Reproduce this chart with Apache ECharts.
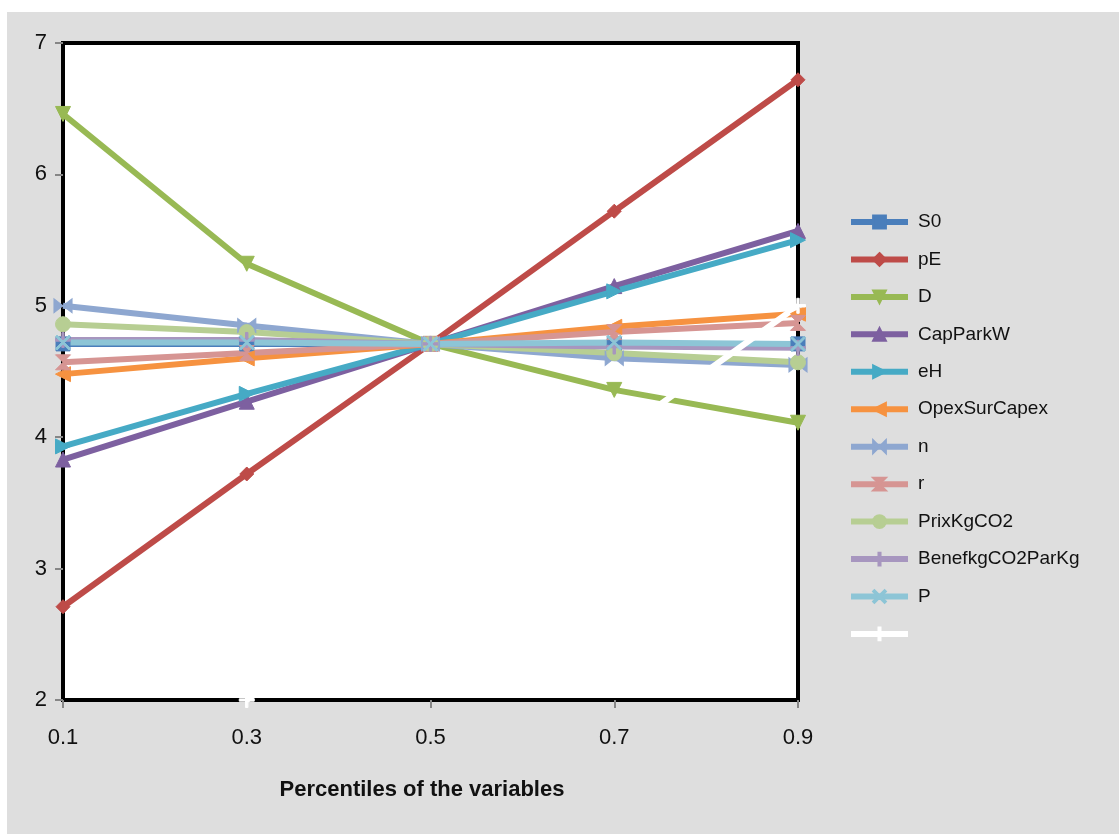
<!DOCTYPE html>
<html>
<head>
<meta charset="utf-8">
<script src="https://cdn.jsdelivr.net/npm/echarts@6/dist/echarts.min.js"></script>
<style>
  html, body { margin: 0; padding: 0; background: #ffffff; }
  #panel { position: absolute; left: 7px; top: 12px; width: 1112px; height: 822px; background: #dedede; }
  #chart { position: absolute; left: 0; top: 0; width: 1119px; height: 834px; }
</style>
</head>
<body>
<div id="panel"></div>
<div id="chart"></div>
<script>
// Percentile points on the horizontal axis
const percentiles = ['0.1', '0.3', '0.5', '0.7', '0.9'];
const yTicks = [2, 3, 4, 5, 6, 7];

// Output value at each percentile of one input variable
const S0           = [4.71, 4.71, 4.71, 4.71, 4.71];
const pE           = [2.71, 3.72, 4.71, 5.72, 6.72];
const D            = [6.46, 5.32, 4.71, 4.36, 4.11];
const CapParkW     = [3.83, 4.27, 4.71, 5.15, 5.57];
const eH           = [3.93, 4.33, 4.71, 5.11, 5.50];
const OpexSurCapex = [4.48, 4.60, 4.71, 4.84, 4.94];
const n            = [5.00, 4.85, 4.71, 4.60, 4.55];
const r            = [4.57, 4.64, 4.71, 4.80, 4.87];
const PrixKgCO2    = [4.86, 4.80, 4.71, 4.64, 4.57];
const BenefkgCO2ParKg = [4.74, 4.74, 4.71, 4.69, 4.68];
const P            = [4.72, 4.72, 4.71, 4.72, 4.71];
const unnamed      = [null, 2, 3, 4, 5];

const FONT = 'Liberation Sans';

// marker shapes
const TRI_DOWN  = 'path://M0,0L10,0L5,9Z';
const TRI_RIGHT = 'path://M0,0L9,5L0,10Z';
const TRI_LEFT  = 'path://M9,0L0,5L9,10Z';
const BOWTIE_H  = 'path://M0,0L10,5L0,10Z M20,0L10,5L20,10Z';
const BOWTIE_V  = 'path://M0,0L10,0L5,5Z M0,10L10,10L5,5Z';
const PLUS      = 'path://M4.2,0H5.8V10H4.2Z M0,4.2H10V5.8H0Z';
const CROSS     = 'path://M0,1L1,0L5,4L9,0L10,1L6,5L10,9L9,10L5,6L1,10L0,9L4,5Z';

const seriesDefs = [
  { name: 'S0', data: S0, color: '#4a7ebb', symbol: 'rect', size: 14 },
  { name: 'pE', data: pE, color: '#be4b48', symbol: 'diamond', size: 14 },
  { name: 'D', data: D, color: '#98b954', symbol: TRI_DOWN, size: 15 },
  { name: 'CapParkW', data: CapParkW, color: '#7d60a0', symbol: 'triangle', size: 15 },
  { name: 'eH', data: eH, color: '#46aac5', symbol: TRI_RIGHT, size: 15 },
  { name: 'OpexSurCapex', data: OpexSurCapex, color: '#f69240', symbol: TRI_LEFT, size: 15 },
  { name: 'n', data: n, color: '#8ea7d0', symbol: BOWTIE_H, size: [18, 14] },
  { name: 'r', data: r, color: '#d69593', symbol: BOWTIE_V, size: 15 },
  { name: 'PrixKgCO2', data: PrixKgCO2, color: '#b7ce93', symbol: 'circle', size: 15 },
  { name: 'BenefkgCO2ParKg', data: BenefkgCO2ParKg, color: '#a796bf', symbol: PLUS, size: 15 },
  { name: 'P', data: P, color: '#8dc5d6', symbol: CROSS, size: 15 },
  { name: ' ', data: unnamed, color: '#ffffff', symbol: PLUS, size: 15 }
];

const chart = echarts.init(document.getElementById('chart'), null, { renderer: 'canvas' });

chart.setOption({
  backgroundColor: 'transparent',
  animation: false,
  textStyle: { fontFamily: FONT },
  grid: {
    left: 63, top: 43, right: 1119 - 798, bottom: 834 - 700,
    show: true, backgroundColor: '#ffffff', borderColor: '#000000', borderWidth: 4,
    containLabel: false
  },
  legend: {
    orient: 'vertical',
    left: 843, top: 207,
    itemWidth: 57, itemHeight: 16, itemGap: 17.45,
    data: seriesDefs.map(s => s.name),
    lineStyle: { width: 6 },
    textStyle: { fontFamily: FONT, fontSize: 19, color: '#111', lineHeight: 20, padding: [0, 0, 0, 5] }
  },
  xAxis: {
    type: 'category',
    data: percentiles,
    boundaryGap: false,
    axisLine: { show: false },
    axisTick: { show: true, length: 8, lineStyle: { color: '#868686', width: 2 } },
    axisLabel: { fontFamily: FONT, fontSize: 22, color: '#111', margin: 27 },
    splitLine: { show: false }
  },
  yAxis: {
    type: 'value',
    min: yTicks[0], max: yTicks[yTicks.length - 1], interval: 1,
    axisLine: { show: false },
    axisTick: { show: true, length: 8, lineStyle: { color: '#868686', width: 2 } },
    axisLabel: { fontFamily: FONT, fontSize: 22, color: '#111', margin: 16 },
    splitLine: { show: false }
  },
  graphic: [{
    type: 'text', x: 422, y: 790,
    style: {
      text: 'Percentiles of the variables', fontFamily: FONT, fontSize: 22, fontWeight: 'bold',
      fill: '#111', textAlign: 'center', textVerticalAlign: 'middle'
    }
  }],
  series: seriesDefs.map(s => ({
    name: s.name,
    type: 'line',
    data: s.data,
    symbol: s.symbol,
    symbolSize: s.size,
    showAllSymbol: true,
    connectNulls: false,
    clip: true,
    color: s.color,
    lineStyle: { color: s.color, width: 6 },
    itemStyle: { color: s.color, borderColor: s.color, borderWidth: 1 },
    emphasis: { disabled: true }
  }))
});
</script>
</body>
</html>
